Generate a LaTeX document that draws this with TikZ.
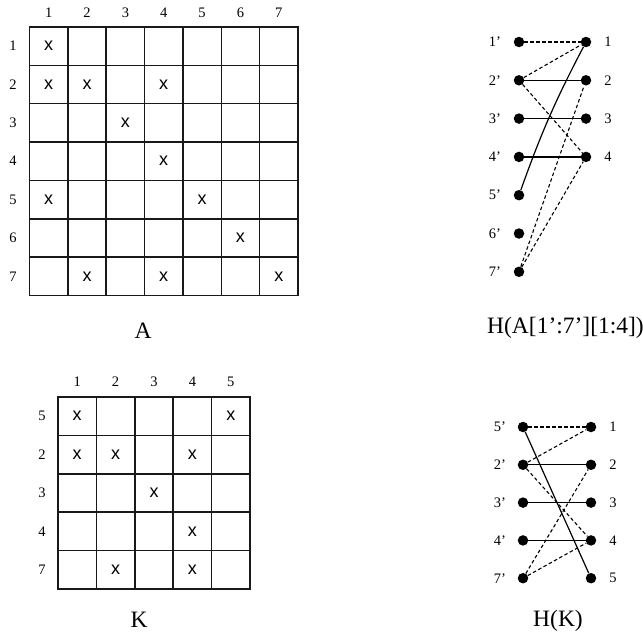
\documentclass[tikz,border=0pt]{standalone}
\usepackage{fontspec}
\setmainfont{Liberation Serif}
\newfontfamily\marksf{Liberation Sans}

\begin{document}
\begin{tikzpicture}[
 x=1pt,y=-1pt,
 cell/.style={draw=black!90,line width=1.5pt,minimum size=38.35pt,inner sep=0pt},
 kcell/.style={cell,minimum size=38.4pt},
 xmark/.style={font=\marksf\fontsize{18}{18}\selectfont,inner sep=0pt},
 idx/.style={font=\fontsize{14.5}{14.5}\selectfont,inner sep=0pt},
 caption/.style={font=\fontsize{23.5}{23.5}\selectfont,inner sep=0pt},
 vert/.style={circle,fill=black,inner sep=0pt,minimum size=10.5pt},
 solidline/.style={line width=1.2pt},
 dashline/.style={line width=1.1pt,dash pattern=on 3.5pt off 2.5pt}
]
\useasboundingbox (0,0) rectangle (643,632);
% matrix A
\foreach \r in {1,...,7}{
  \foreach \c in {1,...,7}
    \node[cell] (a-\r-\c) at ({29.5+38.35*(\c-0.5)},{27+38.35*(\r-0.5)}) {};
  \node[idx] (arow\r) at (13,{27+38.35*(\r-0.5)}) {\r};
  \node[idx] (acol\r) at ({29.5+38.35*(\r-0.5)},13) {\r};
}
\foreach \r/\c in {1/1,2/1,2/2,2/4,3/3,4/4,5/1,5/5,6/6,7/2,7/4,7/7}
  \node[xmark] (ax-\r-\c) at (a-\r-\c) {x};
\node[caption,anchor=base] (capA) at (143,338) {A};
% matrix K
\foreach \i/\r in {1/5,2/2,3/3,4/4,5/7}{
  \foreach \c in {1,...,5}
    \node[kcell] (k-\r-\c) at ({58+38.4*(\c-0.5)},{397+38.4*(\i-0.5)}) {};
  \node[idx] (krow\r) at (42,{397+38.4*(\i-0.5)}) {\r};
  \node[idx] (kcol\i) at ({58+38.4*(\i-0.5)},382) {\i};
}
\foreach \r/\c in {5/1,5/5,2/1,2/2,2/4,3/3,4/4,7/2,7/4}
  \node[xmark] (kx-\r-\c) at (k-\r-\c) {x};
\node[caption,anchor=base] (capK) at (139,627) {K};
% graph of A
\foreach \i in {1,...,7}{
  \node[vert] (hl\i) at (519,{42+38.3*(\i-1)}) {};
  \node[idx] (hl\i-lab) at (495,{42+38.3*(\i-1)}) {\i'};
}
\foreach \j in {1,...,4}{
  \node[vert] (hr\j) at (586,{42+38.3*(\j-1)}) {};
  \node[idx] (hr\j-lab) at (608,{42+38.3*(\j-1)}) {\j};
}
\foreach \a/\b in {1/1,2/1,2/4,7/2,7/4} \draw[dashline] (hl\a)--(hr\b);
\foreach \a/\b in {2/2,3/3,4/4} \draw[solidline] (hl\a)--(hr\b);
\draw[solidline] (hl5) to[bend left=4] (hr1);
\node[caption,anchor=base west] (capHA) at (487,333) {H(A[1':7'][1:4])};
% graph of K
\foreach \i/\r in {1/5,2/2,3/3,4/4,5/7}{
  \node[vert] (gl\r) at (523,{427+37.8*(\i-1)}) {};
  \node[idx] (gl\r-lab) at (500,{427+37.8*(\i-1)}) {\r'};
  \node[vert] (gr\i) at (591,{427+37.8*(\i-1)}) {};
  \node[idx] (gr\i-lab) at (613,{427+37.8*(\i-1)}) {\i};
}
\foreach \a/\b in {5/1,2/1,2/4,7/2,7/4} \draw[dashline] (gl\a)--(gr\b);
\foreach \a/\b in {5/5,2/2,3/3,4/4} \draw[solidline] (gl\a)--(gr\b);
\node[caption,anchor=base] (capHK) at (558,626) {H(K)};
\end{tikzpicture}
\end{document}
